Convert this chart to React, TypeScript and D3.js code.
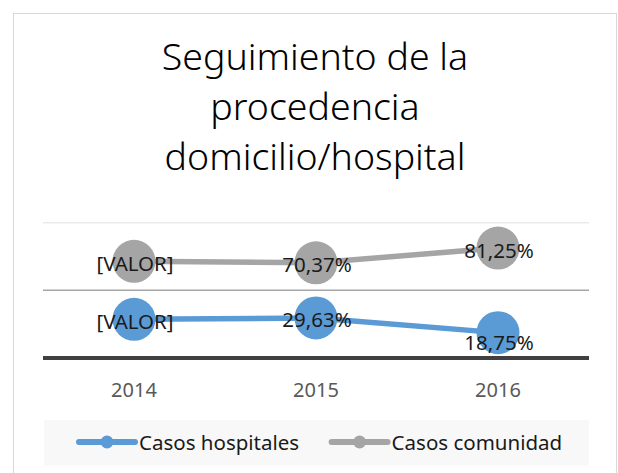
import * as d3 from "d3";

// chart data
const years = ["2014", "2015", "2016"];
const hospitales = [28.57, 29.63, 18.75];
const comunidad = [71.43, 70.37, 81.25];
// what the data labels show (2014 labels were left as the Excel placeholder)
const hospLabels = ["[VALOR]", "29,63%", "18,75%"];
const comuLabels = ["[VALOR]", "70,37%", "81,25%"];
const gridValues = [50, 100];
const titleLines = ["Seguimiento de la", "procedencia", "domicilio/hospital"];

const W = 618;
const H = 473;
const font = "'Noto Sans', 'Open Sans', sans-serif";
const BLUE = "#5b9bd5";
const GRAY = "#a5a5a5";

// small manual nudges of labels, like in the original sheet
const hospNudge = [2, 2, 10];
const comuNudge = [2, 2, 3];

export default function App() {
  const x = d3.scaleBand().domain(years).range([43, 589]);
  const y = d3.scaleLinear().domain([0, 100]).range([358, 222.7]);
  const cx = (yr: string) => (x(yr) ?? 0) + x.bandwidth() / 2;

  const line = d3
    .line<number>()
    .x((_, i) => cx(years[i]))
    .y((d) => y(d));

  const series = [
    { name: "Casos hospitales", values: hospitales, labels: hospLabels, nudge: hospNudge, color: BLUE },
    { name: "Casos comunidad", values: comunidad, labels: comuLabels, nudge: comuNudge, color: GRAY },
  ];

  const legendX = [79, 331.6];

  return (
    <svg
      width={W}
      height={H}
      style={{ position: "absolute", left: 0, top: 0, background: "#fff" }}
      fontFamily={font}
    >
      {/* chart frame */}
      <rect x={13.5} y={13.5} width={603} height={480} fill="#fff" stroke="#d9d9d9" strokeWidth={1} />

      {/* title */}
      <text textAnchor="middle" fontSize={37.5} fontWeight={300} fill="#000">
        {titleLines.map((t, i) => (
          <tspan key={i} x={315} y={70 + i * 50}>
            {t}
          </tspan>
        ))}
      </text>

      {/* gridlines */}
      {gridValues.map((v) => (
        <line
          key={v}
          x1={43}
          x2={589}
          y1={y(v)}
          y2={y(v)}
          stroke={v === 100 ? "#e9e9e9" : "#a6a6a6"}
          strokeWidth={1.5}
        />
      ))}
      {/* x axis */}
      <line x1={43} x2={589} y1={y(0)} y2={y(0)} stroke="#404040" strokeWidth={4} />
      {years.map((yr) => (
        <text key={yr} x={cx(yr)} y={396.5} textAnchor="middle" fontSize={20} fill="#595959">
          {yr}
        </text>
      ))}

      {/* series */}
      {series.map((s) => (
        <g key={s.name}>
          <path d={line(s.values) ?? ""} fill="none" stroke={s.color} strokeWidth={5.5} strokeLinecap="round" />
          {s.values.map((v, i) => (
            <circle key={i} cx={cx(years[i])} cy={y(v)} r={21.5} fill={s.color} />
          ))}
          {s.values.map((v, i) => (
            <text
              key={"l" + i}
              x={cx(years[i]) + 1}
              y={y(v) + s.nudge[i]}
              dy="0.35em"
              textAnchor="middle"
              fontSize={20.5}
              fill="#1a1a1a"
            >
              {s.labels[i]}
            </text>
          ))}
        </g>
      ))}

      {/* legend */}
      <rect x={44} y={420} width={545} height={45.5} fill="#f8f8f8" />
      {series.map((s, i) => (
        <g key={s.name} transform={`translate(${legendX[i]},442)`}>
          <line x1={0} x2={56} y1={0} y2={0} stroke={s.color} strokeWidth={6} strokeLinecap="round" />
          <circle cx={28} cy={0} r={6.5} fill={s.color} />
          <text x={60} y={8} fontSize={20.5} fill="#1a1a1a">
            {s.name}
          </text>
        </g>
      ))}
    </svg>
  );
}
